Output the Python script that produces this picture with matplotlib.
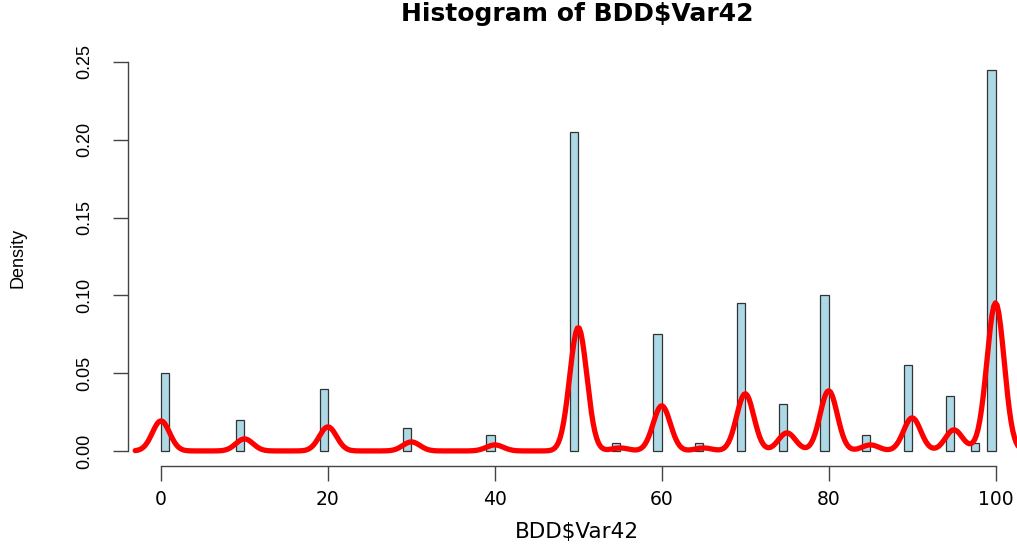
import numpy as np
import matplotlib
matplotlib.use("Agg")
import matplotlib.pyplot as plt

# observed values of Var42 and how many times each one appears (n = 200)
values = [0, 10, 20, 30, 40, 50, 55, 60, 65, 70, 75, 80, 85, 90, 95, 98, 100]
counts = [10, 4, 8, 3, 2, 41, 1, 15, 1, 19, 6, 20, 2, 11, 7, 1, 49]
bw = 1.03  # bandwidth of the density line

xticks = [0, 20, 40, 60, 80, 100]
yticks = [0.00, 0.05, 0.10, 0.15, 0.20, 0.25]

values = np.array(values, dtype=float)
counts = np.array(counts, dtype=float)
n = counts.sum()
dens = counts / n

# R style bins: (v-1, v], first one [0, 1]
left = np.where(values == 0, 0, values - 1)

# gaussian kernel density like R's density()
grid = np.linspace(values.min() - 3 * bw, values.max() + 3 * bw, 512)
kde = np.zeros_like(grid)
for v, c in zip(values, counts):
    kde += c * np.exp(-0.5 * ((grid - v) / bw) ** 2)
kde /= n * bw * np.sqrt(2 * np.pi)

plt.rcParams['font.family'] = ['Liberation Sans', 'DejaVu Sans']

W, H = 1017, 546
fig = plt.figure(figsize=(W / 100, H / 100), dpi=100)
ax = fig.add_axes([127.6 / W, (H - 466.2) / H, (1029 - 127.6) / W, (466.2 - 54.5) / H])

ax.bar(left, dens, width=1, align='edge', color='#add8e6', edgecolor='#333333', linewidth=0.9)
ax.plot(grid, kde, color='red', linewidth=3.8, solid_capstyle='round')

ax.set_xlim(-4, 104)
ax.set_ylim(-0.0098, 0.2548)

for s in ['top', 'right']:
    ax.spines[s].set_visible(False)
ax.spines['left'].set_bounds(0, 0.25)
ax.spines['bottom'].set_bounds(0, 100)
for s in ['left', 'bottom']:
    ax.spines[s].set_color('#444444')
    ax.spines[s].set_linewidth(1.0)

ax.set_xticks(xticks)
ax.set_xticklabels([str(t) for t in xticks], family=['DejaVu Sans'])
ax.set_yticks(yticks)
ax.set_yticklabels(['%.2f' % t for t in yticks], rotation=90, va='center')
ax.tick_params(length=11, width=1.0, color='#444444', labelsize=13.5, pad=6)
ax.tick_params(axis='y', labelsize=13, pad=14)

fig.text(577 / W, 1 - 14 / H, 'Histogram of BDD$Var42', ha='center', va='center',
         fontsize=18, fontweight='bold', family=['DejaVu Sans'])
fig.text(577 / W, 1 - 532 / H, 'BDD$Var42', ha='center', va='center',
         fontsize=15.5, family=['DejaVu Sans'])
fig.text(18 / W, 1 - 258 / H, 'Density', ha='center', va='center',
         fontsize=13, rotation=90)

fig.savefig('out.png', dpi=100)
